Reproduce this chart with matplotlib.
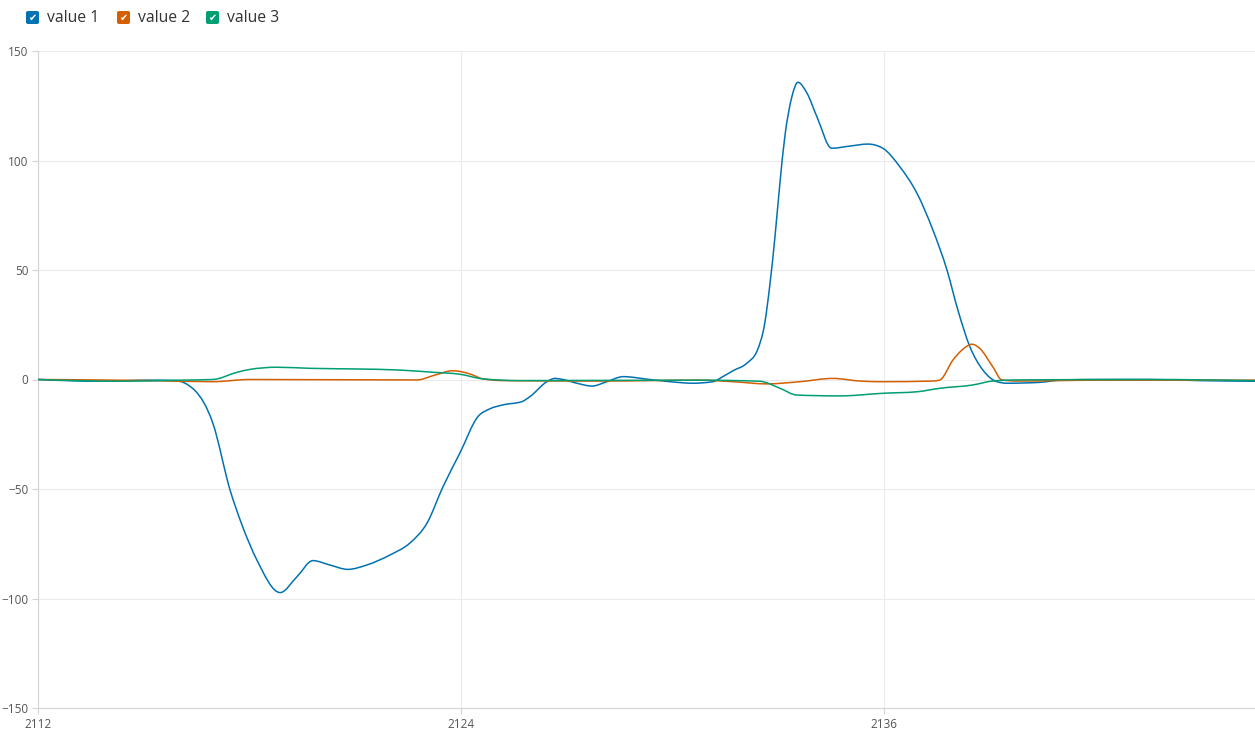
import numpy as np
import matplotlib
matplotlib.use("Agg")
import matplotlib.pyplot as plt
from matplotlib.patches import FancyBboxPatch, PathPatch
from matplotlib.path import Path

plt.rcParams["font.family"] = ["Open Sans", "DejaVu Sans"]

# value 1 (blue)
x1 = [2112.00, 2113.76, 2115.18, 2115.89, 2116.45, 2116.96, 2117.45,
      2117.79, 2118.21, 2118.87, 2119.35, 2119.80, 2120.28, 2120.79, 2121.33, 2121.99,
      2122.55, 2123.04, 2123.49, 2123.97, 2124.48, 2124.82, 2125.19, 2125.73, 2125.96,
      2126.44, 2126.67, 2126.89, 2127.29, 2127.72, 2128.14, 2128.60, 2129.36, 2129.93,
      2130.58, 2131.15, 2131.43, 2131.72, 2132.11, 2132.40, 2132.62, 2132.77, 2132.91,
      2133.05, 2133.19, 2133.39, 2133.56, 2133.82, 2134.10, 2134.52, 2135.04, 2135.55,
      2135.97, 2136.45, 2136.94, 2137.39, 2137.79, 2138.10, 2138.44, 2138.81, 2139.21,
      2139.49, 2140.43, 2140.99, 2142.13, 2143.55, 2144.96, 2146.53]
v1 = [0.0, -0.8, -0.3, -0.5, -5.0, -19.9, -50.5,
      -66.5, -82.4, -97.3, -90.0, -82.7, -84.7, -86.7, -84.7, -80.1,
      -74.7, -65.5, -49.0, -33.6, -17.0, -13.4, -11.6, -10.1, -7.8,
      -1.0, 0.5, 0.0, -1.7, -3.0, -1.0, 1.3, 0.0, -1.0,
      -1.7, -1.0, 1.3, 4.0, 7.4, 13.0, 25.7, 43.9, 65.2,
      89.6, 110.9, 129.1, 135.7, 130.7, 120.0, 105.6, 106.6, 107.5,
      105.6, 97.2, 85.0, 68.3, 50.0, 31.7, 15.0, 4.3, -1.0,
      -1.7, -1.3, -0.3, 0.0, 0.0, -0.5, -0.8]

# value 2 (orange)
x2 = [2112.00, 2115.18, 2116.96, 2118.01, 2122.75, 2123.26, 2123.77, 2124.26, 2124.62,
      2125.19, 2127.94, 2130.78, 2131.72, 2132.68, 2133.62, 2134.55, 2135.32, 2135.97,
      2137.39, 2137.59, 2137.96, 2138.22, 2138.50, 2138.72, 2139.09, 2139.35, 2139.77,
      2142.13, 2146.53]
v2 = [0.0, -0.5, -1.0, 0.0, -0.2, 2.0, 4.0, 2.5, 0.3,
      -0.5, -0.7, -0.3, -1.0, -2.0, -1.0, 0.5, -0.7, -1.0,
      -0.7, -0.2, 8.9, 13.5, 16.1, 14.2, 5.8, -0.2, -0.7,
      -0.3, -0.3]

# value 3 (green)
x3 = [2112.00, 2114.33, 2116.03, 2116.96, 2117.65, 2118.01, 2118.78, 2119.72, 2121.05,
      2122.27, 2123.21, 2123.97, 2124.62, 2125.67, 2130.78, 2132.48, 2133.05, 2133.53,
      2134.75, 2135.97, 2136.94, 2137.59, 2138.52, 2139.09, 2139.77, 2143.55, 2146.53]
v3 = [0.0, -0.8, -0.3, 0.0, 3.3, 4.6, 5.6, 5.1, 4.8,
      4.3, 3.3, 2.4, 0.3, -0.5, -0.3, -0.8, -4.0, -7.1,
      -7.5, -6.3, -5.6, -4.0, -2.5, -0.7, -0.2, 0.0, -0.5]

labels = ["value 1", "value 2", "value 3"]
colors = ["#0072B2", "#D55E00", "#009E73"]
x_ticks = [2112, 2124, 2136]
y_ticks = [-150, -100, -50, 0, 50, 100, 150]


def monotone_path(xs, ys):
    """Bezier path through the points, monotone-x style tangents."""
    x = np.asarray(xs, float)
    y = np.asarray(ys, float)
    h = np.diff(x)
    s = np.diff(y) / h
    m = np.zeros_like(x)
    for i in range(1, len(x) - 1):
        p = (s[i - 1] * h[i] + s[i] * h[i - 1]) / (h[i - 1] + h[i])
        m[i] = (np.sign(s[i - 1]) + np.sign(s[i])) * min(abs(s[i - 1]), abs(s[i]), 0.5 * abs(p))
    m[0] = (3 * s[0] - m[1]) / 2
    m[-1] = (3 * s[-1] - m[-2]) / 2
    verts = [(x[0], y[0])]
    codes = [Path.MOVETO]
    for i in range(len(x) - 1):
        d = h[i] / 3
        verts += [(x[i] + d, y[i] + m[i] * d), (x[i + 1] - d, y[i + 1] - m[i + 1] * d),
                  (x[i + 1], y[i + 1])]
        codes += [Path.CURVE4] * 3
    return Path(verts, codes)


W, H = 1255, 746
fig = plt.figure(figsize=(W / 100, H / 100), dpi=100)
ax = fig.add_axes([38 / W, 1 - 708 / H, 1 - 38 / W, (708 - 51) / H])

for xs, vs, c in zip([x1, x2, x3], [v1, v2, v3], colors):
    ax.add_patch(PathPatch(monotone_path(xs, vs), fc="none", ec=c, lw=1.1,
                           joinstyle="round", zorder=3))

ax.set_xlim(2112, 2146.53)
ax.set_ylim(-150, 150)
ax.set_xticks(x_ticks)
ax.set_yticks(y_ticks)
ax.grid(True, color="#ebebeb", lw=0.8)
ax.set_axisbelow(True)
for s in ["top", "right"]:
    ax.spines[s].set_visible(False)
for s in ["left", "bottom"]:
    ax.spines[s].set_color("#d4d4d4")
    ax.spines[s].set_linewidth(0.8)
ax.tick_params(colors="#d4d4d4", labelcolor="#555555", labelsize=8.5, length=4, width=0.8)
ax.tick_params(axis="y", pad=3)
ax.tick_params(axis="x", pad=3)

# legend with checkbox markers
box_x = [26, 117, 206]
for bx, lab, c in zip(box_x, labels, colors):
    fig.patches.append(FancyBboxPatch((bx / W, 1 - 24 / H), 13 / W, 13 / H,
                                      boxstyle="round,pad=0,rounding_size=0.002",
                                      transform=fig.transFigure, fc=c, ec="none"))
    fig.text((bx + 6.5) / W, 1 - 17.5 / H, "\u2714", color="white", fontsize=7,
             ha="center", va="center", family="DejaVu Sans")
    fig.text((bx + 21) / W, 1 - 17.5 / H, lab, color="#333333", fontsize=11.3,
             ha="left", va="center")

fig.savefig("out.png", dpi=100)
